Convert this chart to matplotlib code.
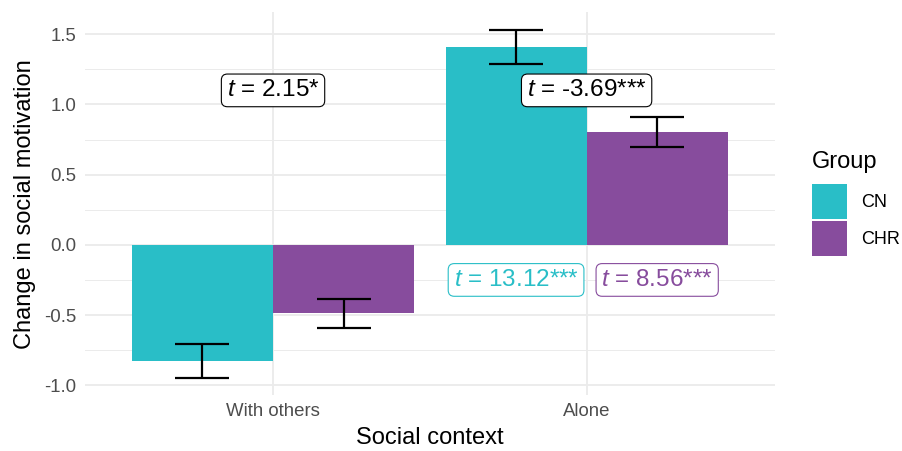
import matplotlib
matplotlib.use("Agg")
from matplotlib import pyplot as plt
from matplotlib.patches import Patch
import numpy as np

plt.rcParams["font.family"] = ["Liberation Sans", "DejaVu Sans"]
plt.rcParams["mathtext.fontset"] = "custom"
plt.rcParams["mathtext.rm"] = "Liberation Sans"
plt.rcParams["mathtext.it"] = "Liberation Sans:italic"

# data
contexts = ["With others", "Alone"]
groups = ["CN", "CHR"]
colors = ["#29BEC7", "#874C9D"]
cn_mean = [-0.827, 1.411]
cn_se = [0.121, 0.121]
chr_mean = [-0.489, 0.802]
chr_se = [0.105, 0.108]
between_labels = ["$t$ = 2.15*", "$t$ = -3.69***"]
within_labels = ["$t$ = 13.12***", "$t$ = 8.56***"]  # Alone: CN, CHR
between_y = 1.1
within_y = -0.25

means = [cn_mean, chr_mean]
ses = [cn_se, chr_se]

fig = plt.figure(figsize=(9.03, 4.51), dpi=100)
ax = fig.add_axes([0.094, 0.124, 0.764, 0.849])

x = np.arange(1, len(contexts) + 1)
width = 0.45
offsets = [-width / 2, width / 2]

ax.set_axisbelow(True)
for g in range(len(groups)):
    ax.bar(x + offsets[g], means[g], width=width, color=colors[g],
           label=groups[g], zorder=2)
    ax.errorbar(x + offsets[g], means[g], yerr=ses[g], fmt="none",
                ecolor="black", elinewidth=1.6, capsize=19.5, capthick=1.6,
                zorder=3)

box_style = "round,pad=0.22,rounding_size=0.25"
for i in range(len(contexts)):
    ax.text(x[i], between_y, between_labels[i], ha="center", va="center",
            fontsize=17.5, color="black", zorder=4,
            bbox=dict(boxstyle=box_style, fc="white", ec="black", lw=0.8))

for g in range(len(groups)):
    ax.text(x[1] + offsets[g], within_y, within_labels[g], ha="center",
            va="center", fontsize=17.5, color=colors[g], zorder=4,
            bbox=dict(boxstyle=box_style, fc="white", ec=colors[g], lw=0.8))

ax.set_xlim(0.4, 2.6)
ax.set_ylim(-1.07, 1.657)
ax.set_xticks(x)
ax.set_xticklabels(contexts)
ax.set_yticks([-1.0, -0.5, 0.0, 0.5, 1.0, 1.5])
ax.set_yticks([-0.75, -0.25, 0.25, 0.75, 1.25], minor=True)
ax.yaxis.set_major_formatter(matplotlib.ticker.FormatStrFormatter("%.1f"))
ax.tick_params(axis="both", which="both", length=0, labelsize=13.4,
               labelcolor="#4D4D4D", pad=6)
ax.grid(axis="y", which="major", color="#EBEBEB", lw=1.3)
ax.grid(axis="y", which="minor", color="#EBEBEB", lw=0.7)
ax.grid(axis="x", which="major", color="#EBEBEB", lw=1.3)
for s in ax.spines.values():
    s.set_visible(False)

ax.set_xlabel("Social context", fontsize=17, labelpad=5)
ax.set_ylabel("Change in social motivation", fontsize=17, labelpad=6)

# legend: keys as a legend, title placed above them
handles = [Patch(facecolor=c, edgecolor="none") for c in colors]
leg = ax.legend(handles, groups, loc="upper left",
                bbox_to_anchor=(0.899, 0.592), bbox_transform=fig.transFigure,
                frameon=False, fontsize=13,
                handlelength=1.94, handleheight=2.6, labelspacing=0.1,
                handletextpad=0.78, borderaxespad=0, borderpad=0)
fig.text(0.899, 1 - 162 / 451, "Group", ha="left", va="center", fontsize=17)

fig.savefig("out.png", dpi=100)
